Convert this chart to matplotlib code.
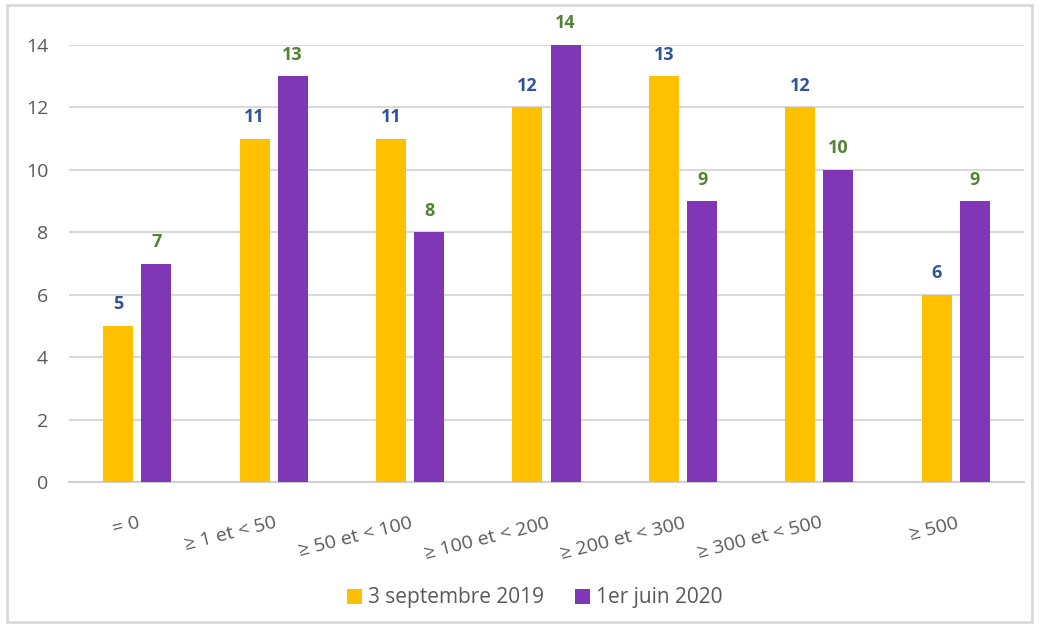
import matplotlib
matplotlib.use("Agg")
import matplotlib.pyplot as plt
from matplotlib.patches import Rectangle
import numpy as np

categories = ["= 0", "≥ 1 et < 50", "≥ 50 et < 100", "≥ 100 et < 200",
              "≥ 200 et < 300", "≥ 300 et < 500", "≥ 500"]
series_names = ["3 septembre 2019", "1er juin 2020"]
values_2019 = [5, 11, 11, 12, 13, 12, 6]
values_2020 = [7, 13, 8, 14, 9, 10, 9]
yticks = [0, 2, 4, 6, 8, 10, 12, 14]

plt.rcParams['font.family'] = ['Open Sans', 'DejaVu Sans']

W, H = 1039, 627
fig = plt.figure(figsize=(W / 100, H / 100), dpi=100)
ax = fig.add_axes([69 / W, 1 - 482 / H, (1024 - 69) / W, (482 - 45) / H])

x = np.arange(len(categories))
bw = 0.22
off = 0.14
b1 = ax.bar(x - off, values_2019, bw, color="#FFC000", label=series_names[0], zorder=3)
b2 = ax.bar(x + off, values_2020, bw, color="#7F37B5", label=series_names[1], zorder=3)

for xi, v in zip(x - off, values_2019):
    ax.annotate(str(v), (xi, v), xytext=(0, 15.5), textcoords="offset points",
                ha="center", va="center", fontsize=13, fontweight="bold", color="#2F5597")
for xi, v in zip(x + off, values_2020):
    ax.annotate(str(v), (xi, v), xytext=(0, 15.5), textcoords="offset points",
                ha="center", va="center", fontsize=13, fontweight="bold", color="#548235")

ax.set_xlim(-0.5, len(categories) - 0.5)
ax.set_ylim(0, 14)
ax.set_yticks(yticks)
ax.set_yticklabels([str(t) for t in yticks], fontsize=14, color="#595959")
ax.set_xticks(x)
ax.set_xticklabels(categories, rotation=14, ha="right", rotation_mode="anchor",
                   fontsize=14, color="#595959")
ax.tick_params(axis="both", length=0)
ax.tick_params(axis="y", pad=15)
ax.tick_params(axis="x", pad=23)
ax.yaxis.grid(True, color="#D9D9D9", linewidth=1.5, zorder=0)
for s in ["top", "right", "left"]:
    ax.spines[s].set_visible(False)
ax.spines["bottom"].set_color("#D0D0D0")
ax.spines["bottom"].set_linewidth(1.5)
ax.set_axisbelow(True)

leg = fig.legend(handles=[b1, b2], labels=series_names, loc="center",
                 bbox_to_anchor=(535 / W, 1 - 598 / H), ncol=2, frameon=False,
                 fontsize=15, handlelength=0.7, handleheight=0.7, columnspacing=1.5,
                 handletextpad=0.3)
for t in leg.get_texts():
    t.set_color("#595959")

fig.patches.append(Rectangle((7 / W, 1 - 622 / H), (1032 - 7) / W, (622 - 5) / H,
                             transform=fig.transFigure, fill=False,
                             edgecolor="#D9D9D9", linewidth=2))

fig.savefig("out.png", dpi=100)
